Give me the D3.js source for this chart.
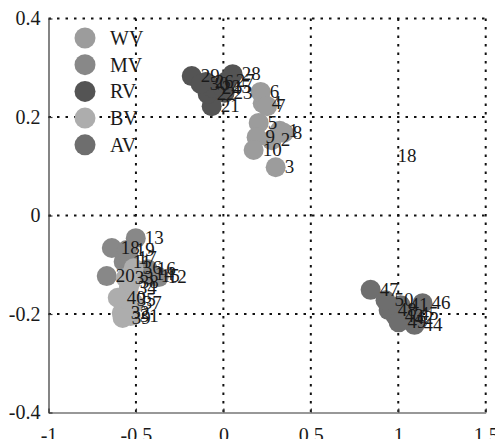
<!DOCTYPE html>
<html>
<head>
<meta charset="utf-8">
<script src="https://cdn.jsdelivr.net/npm/d3@7"></script>
<style>
  body { margin: 0; background: #fff; }
</style>
</head>
<body>
<div id="chart"></div>
<script>
const MARGIN = { LEFT: 48.5, RIGHT: 9.3, TOP: 18.5, BOTTOM: 26.5 }
const WIDTH = 495 - MARGIN.LEFT - MARGIN.RIGHT
const HEIGHT = 439 - MARGIN.TOP - MARGIN.BOTTOM
const FONT = "'Liberation Serif', 'Times New Roman', serif"

// data
const groups = ["WV", "MV", "RV", "BV", "AV"]
const groupColors = ["#9c9c9c", "#888888", "#545454", "#adadad", "#6e6e6e"]

const wvX = [0.322, 0.276, 0.299, 0.225, 0.202, 0.213, 0.250, 0.345, 0.190, 0.173]
const wvY = [0.172, 0.153, 0.098, 0.228, 0.188, 0.251, 0.222, 0.168, 0.159, 0.133]
const mvX = [-0.570, -0.370, -0.501, -0.444, -0.410, -0.433, -0.541, -0.638, -0.553, -0.667]
const mvY = [-0.094, -0.125, -0.046, -0.119, -0.123, -0.109, -0.086, -0.066, -0.070, -0.123]
const rvX = [-0.067, -0.090, 0.007, -0.061, -0.004, -0.101, 0.019, 0.053, -0.181, -0.130]
const rvY = [0.222, 0.247, 0.249, 0.259, 0.261, 0.271, 0.273, 0.287, 0.283, 0.267]
const bvX = [-0.530, -0.581, -0.558, -0.541, -0.547, -0.513, -0.513, -0.530, -0.576, -0.604]
const bvY = [-0.204, -0.198, -0.127, -0.147, -0.172, -0.107, -0.178, -0.135, -0.208, -0.167]
const avX = [1.013, 1.042, 0.985, 1.093, 1.070, 1.139, 0.842, 0.945, 1.002, 0.927]
const avY = [-0.182, -0.208, -0.204, -0.222, -0.200, -0.178, -0.151, -0.192, -0.217, -0.172]

// a lone label with no marker, right side of the plot
const strayLabels = [{ x: 0.996, y: 0.121, text: "18" }]

const xTicks = [-1, -0.5, 0, 0.5, 1, 1.5]
const xTickLabels = ["-1", "-0.5", "0", "0.5", "1", "1.5"]
const yTicks = [-0.4, -0.2, 0, 0.2, 0.4]
const yTickLabels = ["-0.4", "-0.2", "0", "0.2", "0.4"]

const seriesX = [wvX, mvX, rvX, bvX, avX]
const seriesY = [wvY, mvY, rvY, bvY, avY]
const points = []
seriesX.forEach((xs, gi) => {
    xs.forEach((v, i) => {
        points.push({ group: gi, x: v, y: seriesY[gi][i], id: gi * 10 + i + 1 })
    })
})

const svg = d3.select("#chart").append("svg")
    .attr("width", 495)
    .attr("height", 439)

const g = svg.append("g")
    .attr("transform", `translate(${MARGIN.LEFT}, ${MARGIN.TOP})`)

// Scales
const x = d3.scaleLinear()
    .domain([-1, 1.5])
    .range([0, WIDTH])

const y = d3.scaleLinear()
    .domain([-0.4, 0.4])
    .range([HEIGHT, 0])

// grid
g.selectAll(".vgrid")
    .data(xTicks.slice(1))
    .enter().append("line")
    .attr("x1", d => x(d)).attr("x2", d => x(d))
    .attr("y1", 0).attr("y2", HEIGHT)
    .attr("stroke", "#111")
    .attr("stroke-width", 2)
    .attr("stroke-dasharray", "2.5,6")

g.selectAll(".hgrid")
    .data(yTicks.slice(1))
    .enter().append("line")
    .attr("y1", d => y(d)).attr("y2", d => y(d))
    .attr("x1", 0).attr("x2", WIDTH)
    .attr("stroke", "#111")
    .attr("stroke-width", 2)
    .attr("stroke-dasharray", "2.5,6")

// X Axis
const xAxisCall = d3.axisBottom(x)
    .tickValues(xTicks)
    .tickFormat((d, i) => xTickLabels[i])
    .tickSizeInner(-4)
    .tickSizeOuter(0)
    .tickPadding(15)
g.append("g")
    .attr("transform", `translate(0, ${HEIGHT})`)
    .call(xAxisCall)

// Y Axis
const yAxisCall = d3.axisLeft(y)
    .tickValues(yTicks)
    .tickFormat((d, i) => yTickLabels[i])
    .tickSizeInner(-4)
    .tickSizeOuter(0)
    .tickPadding(8)
g.append("g")
    .call(yAxisCall)

svg.selectAll(".domain, .tick line").attr("stroke", "#333").attr("stroke-width", 1.2)
svg.selectAll(".tick text")
    .style("font-family", FONT)
    .style("font-size", "20px")
    .attr("fill", "#1a1a1a")

// points
g.selectAll("circle.pt")
    .data(points)
    .enter().append("circle")
    .attr("class", "pt")
    .attr("cx", d => x(d.x))
    .attr("cy", d => y(d.y))
    .attr("r", 10)
    .attr("fill", d => groupColors[d.group])

g.selectAll("text.lbl")
    .data(points)
    .enter().append("text")
    .attr("class", "lbl")
    .attr("x", d => x(d.x) + 9)
    .attr("y", d => y(d.y) + 6)
    .style("font-family", FONT)
    .style("font-size", "19px")
    .attr("fill", "#1a1a1a")
    .text(d => d.id)

g.selectAll("text.stray")
    .data(strayLabels)
    .enter().append("text")
    .attr("class", "stray")
    .attr("x", d => x(d.x))
    .attr("y", d => y(d.y) + 6)
    .style("font-family", FONT)
    .style("font-size", "19px")
    .attr("fill", "#1a1a1a")
    .text(d => d.text)

// legend
const legend = svg.append("g")
    .attr("transform", "translate(85, 38)")
const items = legend.selectAll("g")
    .data(groups)
    .enter().append("g")
    .attr("transform", (d, i) => `translate(0, ${i * 26.7})`)
items.append("circle")
    .attr("r", 10.5)
    .attr("fill", (d, i) => groupColors[i])
items.append("text")
    .attr("x", 25)
    .attr("y", 7)
    .style("font-family", FONT)
    .style("font-size", "20px")
    .attr("fill", "#1a1a1a")
    .text(d => d)
</script>
</body>
</html>
